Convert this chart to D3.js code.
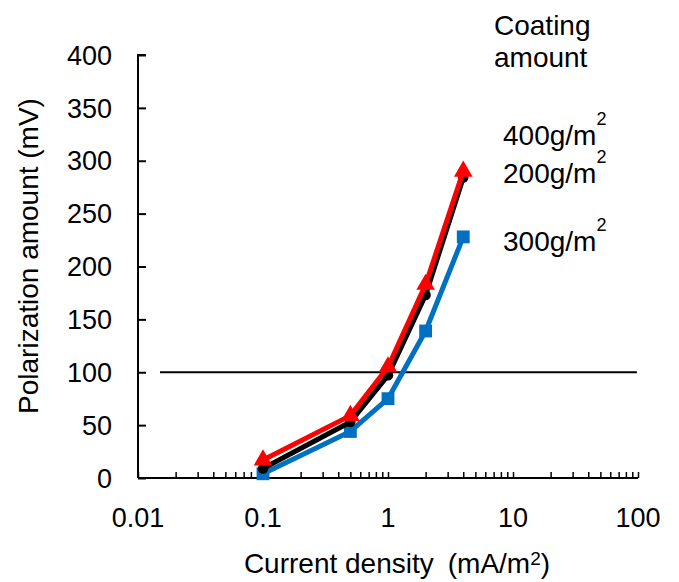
<!DOCTYPE html>
<html>
<head>
<meta charset="utf-8">
<script src="https://cdn.jsdelivr.net/npm/d3@7"></script>
<style>
  body { margin: 0; background: #fff; }
  text { font-family: "Liberation Sans", Arial, sans-serif; fill: #000; }
</style>
</head>
<body>
<svg id="chart"></svg>
<script>
// Data
const currentDensity = [0.1, 0.5, 1, 2, 4];
const coat400 = [17, 59, 105, 183, 290];
const coat200 = [9, 53, 97, 173, 284];
const coat300 = [4, 44, 75, 139, 228];
const xTickValues = [0.01, 0.1, 1, 10, 100];
const yTickValues = [0, 50, 100, 150, 200, 250, 300, 350, 400];
const refLineValue = 100;
const refLineRange = [0.015, 98];

const width = 679;
const height = 582;

const svg = d3.select('#chart')
    .attr('width', width)
    .attr('height', height);

// Scales
const xScale = d3.scaleLog().domain([0.01, 100]).range([138, 638]);
const yScale = d3.scaleLinear().domain([0, 400]).range([478, 55]);

// Y axis (ticks inside)
const yAxis = svg.append('g')
    .attr('transform', `translate(${xScale.range()[0]},0)`)
    .call(d3.axisRight(yScale).tickValues(yTickValues).tickSize(8).tickFormat(''));
yAxis.select('.domain').attr('stroke-width', 2).attr('d', `M8,${yScale(400)}H0V${yScale(0)}`);
yAxis.selectAll('.tick line').attr('stroke-width', 2);

svg.append('g').selectAll('text')
    .data(yTickValues)
    .enter()
    .append('text')
    .attr('x', 112)
    .attr('y', (d) => yScale(d))
    .attr('dy', '0.36em')
    .style('text-anchor', 'end')
    .style('font-size', '27px')
    .text((d) => d);

// X axis: minor ticks in every decade
const minorTicks = [];
for (let e = -2; e < 2; e++) {
    for (let m = 2; m <= 9; m++) minorTicks.push(m * Math.pow(10, e));
}
const xAxis = svg.append('g')
    .attr('transform', `translate(0,${yScale(0)})`)
    .call(d3.axisTop(xScale).tickValues(xTickValues.concat(minorTicks)).tickSize(6).tickFormat(''));
xAxis.select('.domain').attr('stroke-width', 2).attr('d', `M${xScale(0.01)},0H${xScale(100)}`);
xAxis.selectAll('.tick line').attr('stroke-width', 1.5);

svg.append('g').selectAll('text')
    .data(xTickValues)
    .enter()
    .append('text')
    .attr('x', (d) => xScale(d))
    .attr('y', 527)
    .style('text-anchor', 'middle')
    .style('font-size', '27px')
    .text((d) => d);

// Axis titles
const xTitle = svg.append('text')
    .attr('x', 397)
    .attr('y', 573)
    .style('text-anchor', 'middle')
    .style('font-size', '28px');
xTitle.append('tspan').text('Current density');
xTitle.append('tspan').attr('dx', 14).text('(mA/m');
xTitle.append('tspan').attr('dy', -8).style('font-size', '19px').text('2');
xTitle.append('tspan').attr('dy', 8).text(')');

svg.append('text')
    .attr('transform', 'translate(38,256) rotate(-90)')
    .style('text-anchor', 'middle')
    .style('font-size', '28px')
    .text('Polarization amount (mV)');

// Reference line at 100 mV
svg.append('line')
    .attr('x1', xScale(refLineRange[0]))
    .attr('x2', xScale(refLineRange[1]))
    .attr('y1', yScale(refLineValue))
    .attr('y2', yScale(refLineValue))
    .attr('stroke', '#000')
    .attr('stroke-width', 2);

// Series
const series = [
    { name: '300', values: coat300, color: '#0070C0', symbol: d3.symbolSquare, size: 165 },
    { name: '200', values: coat200, color: '#000000', symbol: d3.symbolCircle, size: 85 },
    { name: '400', values: coat400, color: '#FF0000', symbol: d3.symbolTriangle, size: 150 }
];

const line = d3.line()
    .x((d) => xScale(d[0]))
    .y((d) => yScale(d[1]));

series.forEach((s) => {
    const pts = currentDensity.map((x, i) => [x, s.values[i]]);
    svg.append('path')
        .datum(pts)
        .attr('d', line)
        .attr('fill', 'none')
        .attr('stroke', s.color)
        .attr('stroke-width', 5)
        .attr('stroke-linejoin', 'round');
    svg.append('g').selectAll('path')
        .data(pts)
        .enter()
        .append('path')
        .attr('transform', (d) => `translate(${xScale(d[0])},${yScale(d[1])})`)
        .attr('d', d3.symbol().type(s.symbol).size(s.size))
        .attr('fill', s.color);
});

// Legend labels
svg.append('text').attr('x', 494).attr('y', 35).style('font-size', '28px').text('Coating');
svg.append('text').attr('x', 494).attr('y', 67).style('font-size', '28px').text('amount');

const labels = [
    { text: '400g/m', y: 145 },
    { text: '200g/m', y: 183 },
    { text: '300g/m', y: 251 }
];
labels.forEach((l) => {
    const t = svg.append('text').attr('x', 503).attr('y', l.y).style('font-size', '28px');
    t.append('tspan').text(l.text);
    t.append('tspan').attr('dy', -20).style('font-size', '18px').text('2');
});
</script>
</body>
</html>
